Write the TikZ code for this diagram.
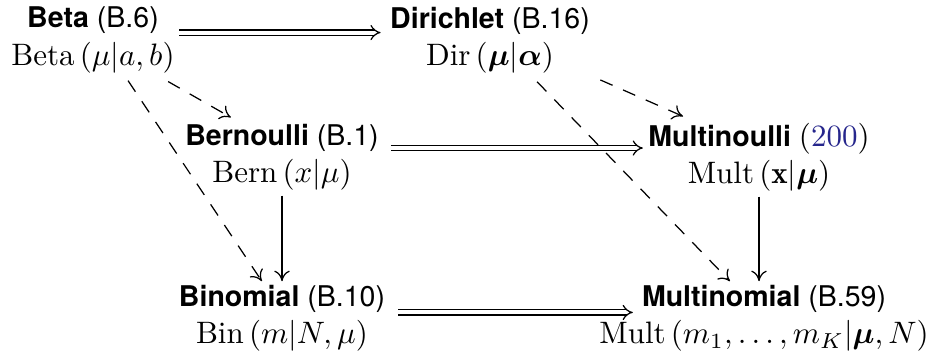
\documentclass[tikz,border=0pt]{standalone}
\usepackage{amsmath,bm}
\usepackage{fontspec}
\setsansfont{TeX Gyre Heros}[Scale=0.92]
\usetikzlibrary{arrows.meta}
\definecolor{linkblue}{RGB}{38,38,140}
\tikzset{>={To[length=3.4pt,width=5pt]}}
\tikzset{
  dist/.style={align=center, inner sep=0pt},
  conjprior/.style={->, dash pattern=on 4.3pt off 3.7pt},
  toK/.style={double, double distance=1.3pt, -{Implies}},
  toN/.style={->}
}
\newcommand{\dname}[2]{\textsf{\textbf{#1} (#2)}}

\begin{document}
\begin{tikzpicture}[x=0.3226pt, y=-0.3226pt]
    \useasboundingbox (0,0) rectangle (927,358);
    \node[dist] (beta) at (93,40) {\dname{Beta}{B.6}\\ $\operatorname{Beta}\left(\mu|a,b\right)$};
    \node[dist] (dirichlet) at (490,40) {\dname{Dirichlet}{B.16}\\ $\operatorname{Dir}\left(\bm{\mu}|\bm{\alpha}\right)$};
    \node[dist] (bernoulli) at (282,157) {\dname{Bernoulli}{B.1}\\ $\operatorname{Bern}\left(x|\mu\right)$};
    \node[dist] (multinoulli) at (759,157) {\textsf{\textbf{Multinoulli} }\textrm{(\textcolor{linkblue}{200})}\\ $\operatorname{Mult}\left(\mathbf{x}|\bm{\mu}\right)$};
    \node[dist] (binomial) at (282,318) {\dname{Binomial}{B.10}\\ $\operatorname{Bin}\left(m|N,\mu\right)$};
    \node[dist] (multinomial) at (764,318) {\dname{Multinomial}{B.59}\\ $\operatorname{Mult}\left(m_1,\ldots,m_K|\bm{\mu},N\right)$};
    \draw[toK] ([xshift=1.3pt,yshift=2.4pt]beta.east) -- ([xshift=-2.9pt,yshift=2.4pt]dirichlet.west);
    \draw[toK] ([xshift=3.7pt,yshift=2.9pt]bernoulli.east) -- ([xshift=-1.6pt,yshift=2.9pt]multinoulli.west);
    \draw[toK] ([xshift=4pt,yshift=1.8pt]binomial.east) -- ([xshift=11pt,yshift=1.8pt]multinomial.west);
    \draw[conjprior] ([xshift=-2.3pt,yshift=-2.6pt]beta.south east) -- ([xshift=-16.5pt,yshift=1.9pt]bernoulli.north);
    \draw[conjprior] ([xshift=11.3pt,yshift=-2.3pt]beta.south) -- ([xshift=-6.5pt,yshift=1pt]binomial.north);
    \draw[conjprior] ([xshift=3.2pt,yshift=-2pt]dirichlet.south east) -- ([xshift=-24.5pt,yshift=1.9pt]multinoulli.north);
    \draw[conjprior] ([xshift=15.2pt,yshift=-2.6pt]dirichlet.south) -- ([xshift=-11pt,yshift=1pt]multinomial.north);
    \draw[toN] ([yshift=-1.6pt]bernoulli.south) -- ([yshift=1pt]binomial.north);
    \draw[toN] ([yshift=-1.6pt]multinoulli.south) -- ([yshift=1pt]multinoulli.south |- multinomial.north);
\end{tikzpicture}
\end{document}
